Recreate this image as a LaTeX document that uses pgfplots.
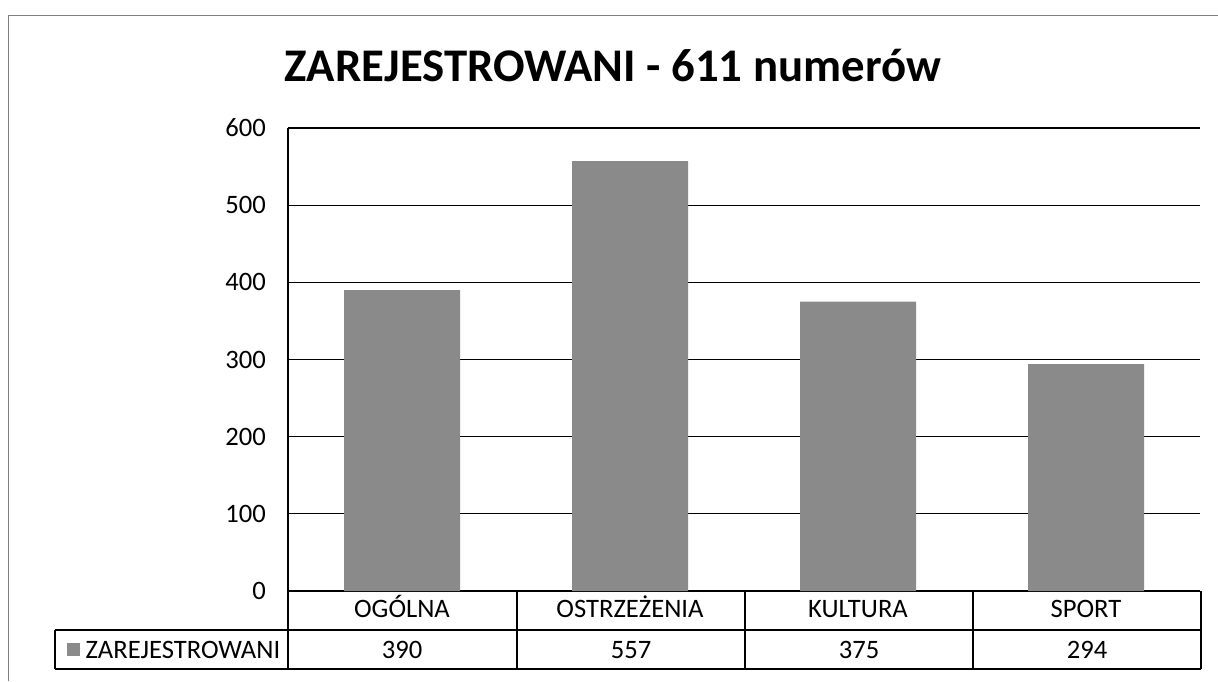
\documentclass[border=0pt]{standalone}
\usepackage{fontspec}
\setmainfont{Carlito}
\usepackage{pgfplots}
\usepackage{pgfplotstable}
\pgfplotsset{compat=1.18}
\definecolor{bargray}{RGB}{138,138,138}
\pgfplotstableread{
x y
0 390
1 557
2 375
3 294
}\datatable
\begin{document}
\begin{tikzpicture}
\begin{scope}[x=0.5pt,y=-0.5pt]
\path[use as bounding box] (0,0) rectangle (1218,681);
\draw[gray, line width=0.5pt] (8,681) -- (8,15) -- (1218,15);
\node[font=\fontsize{23.4}{28}\selectfont\bfseries] at (613,66) {ZAREJESTROWANI - 611 numerów};
\end{scope}
\begin{axis}[
  at={(144pt,-295.5pt)}, anchor=south west,
  scale only axis, width=456pt, height=231.5pt,
  xmin=-0.5, xmax=3.5, ymin=0, ymax=600,
  ytick={0,100,...,600},
  xtick={0,1,2,3},
  xticklabels={OGÓLNA, OSTRZEŻENIA, KULTURA, SPORT},
  major tick length=0pt,
  ymajorgrids,
  grid style={black, line width=0.6pt},
  axis lines*=left,
  axis line style={black, line width=0.6pt, -},
  ticklabel style={font=\fontsize{13.3}{15}\selectfont},
  /pgf/number format/assume math mode=true,
  yticklabel style={xshift=-7.5pt},
  xticklabel style={anchor=base, yshift=-13.2pt},
  ybar, bar width=58pt,
  clip=false,
]
\addplot[fill=bargray, draw=none] table[x=x,y=y] {\datatable};
\end{axis}
\begin{scope}[x=0.5pt,y=-0.5pt, line width=0.6pt]
\draw (55,630) -- (1201,630);
\draw (55,669) -- (1201,669);
\draw (55,630) -- (55,669);
\foreach \xx in {288,517,745,973,1201} {\draw (\xx,591) -- (\xx,669);}
\fill[bargray] (67,643) rectangle (80,656);
\node[anchor=base west, font=\fontsize{13.3}{15}\selectfont, inner sep=0pt] at (85,658.5) {ZAREJESTROWANI};
\foreach \xx/\v in {402/390,631/557,859/375,1087/294} {\node[anchor=base, inner sep=0pt, font=\fontsize{13.3}{15}\selectfont] at (\xx,658.5) {\v};}
\end{scope}
\end{tikzpicture}
\end{document}
